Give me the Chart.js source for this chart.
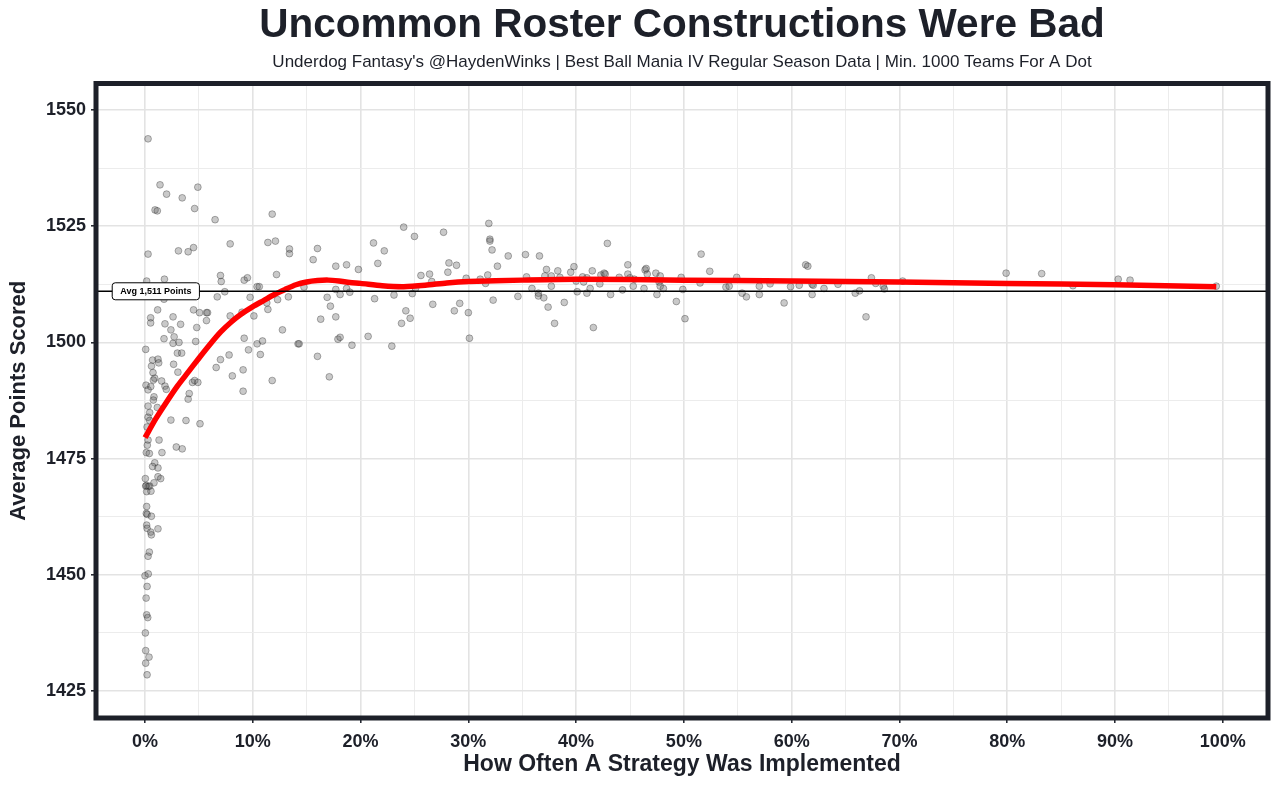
<!DOCTYPE html>
<html>
<head>
<meta charset="utf-8">
<script src="https://cdn.jsdelivr.net/npm/chart.js@4.4.1/dist/chart.umd.min.js"></script>
<style>
  body { margin: 0; background: #ffffff; }
  canvas { display: block; }
</style>
</head>
<body>
<canvas id="chart" width="1280" height="785"></canvas>
<script>
// share of teams using a strategy (%) and avg points for those teams
const shareX = [
  0.28, 1.39, 2.0, 3.45, 4.9, 0.93, 1.14, 4.6, 6.5, 11.8, 0.28, 3.1, 4.0, 4.5, 7.9, 11.4, 12.1, 13.4, 13.4, 12.2,
  7.0, 7.07, 7.4, 9.2, 9.5, 10.4, 10.6, 1.8, 0.15, 6.7, 9.75, 13.3,
  1.76, 4.5, 5.06, 5.7, 5.8, 1.17, 0.52, 0.52, 2.6, 1.85, 2.4, 3.3, 4.8, 5.7, 7.9, 9.0, 10.1, 11.3, 12.3, 11.4,
  12.75, 1.76, 2.6, 3.15, 2.7, 4.7, 0.06, 9.2, 10.4, 10.9, 9.6, 10.7, 3.0, 3.4, 0.7, 1.2, 1.27, 0.6, 2.65, 3.05,
  7.0, 7.8, 6.6, 9.1, 8.1, 11.8, 9.1, 0.74, 0.9, 0.77, 1.54, 1.85, 1.97, 0.09, 0.28, 0.53, 4.4, 4.6, 4.9, 4.1,
  4.0, 0.83, 0.77, 0.28, 1.14, 0.43, 0.28, 0.43, 0.19, 2.4, 3.8, 5.1, 1.3, 0.28, 0.21, 0.12, 0.4, 1.57, 2.9, 3.45,
  0.9, 0.7, 1.2, 0.03, 1.2, 1.45, 0.12, 0.83, 0.3,
  0.06, 0.43, 0.15, 0.55, 0.15, 0.12, 0.2, 0.59, 0.15, 0.19, 1.2, 0.53, 0.59, 0.4, 0.28, 0.0, 0.3, 0.19, 0.1, 0.15,
  0.25, 0.03, 0.06, 0.37, 0.06, 0.19,
  16.0, 15.6, 17.7, 18.7, 19.8, 21.2, 22.2, 21.6, 24.0, 25.0, 27.7, 28.2, 28.1, 28.9, 25.6, 26.4, 26.6, 31.9, 32.0, 32.0,
  32.2, 32.7, 33.7, 35.3, 36.6, 14.75, 16.9, 17.7, 18.1, 18.7, 19.0, 17.2, 16.3, 17.7, 21.3, 23.1, 24.8, 25.1, 26.7, 24.2,
  23.8, 24.6, 28.7, 29.2, 29.8, 30.0, 30.1, 31.1, 31.6, 31.8, 32.3, 34.6, 35.4, 35.9, 36.5, 36.5, 37.0, 37.4, 37.25, 37.1,
  17.9, 18.1, 19.2, 20.7, 16.0, 14.2, 14.3, 22.9, 17.1,
  38.3, 37.7, 38.5, 38.0, 38.9, 37.7, 39.5, 39.8, 40.0, 40.1, 40.6, 40.7, 41.0, 41.0, 41.3, 41.5, 41.6, 42.2, 42.3, 42.6,
  42.7, 42.9, 43.2, 44.0, 44.3, 44.8, 44.8, 45.0, 45.3, 45.4, 46.3, 46.4, 46.5, 46.6, 47.4, 47.5, 47.7, 47.8, 47.8, 48.1,
  49.3, 49.75, 49.9, 50.1, 51.5, 51.6, 52.4, 53.9, 54.2, 54.9, 55.4, 55.8, 57.0, 57.0, 58.0, 59.3, 59.9,
  60.7, 61.3, 61.5, 61.9, 61.9, 62.0, 63.0, 64.3, 65.9, 66.3, 66.9, 67.4, 67.8, 68.5, 68.6, 70.3, 79.9, 83.2, 86.1, 90.3,
  91.4, 99.4
];
const avgPts = [
  1543.8, 1533.9, 1531.9, 1531.1, 1533.4, 1528.5, 1528.3, 1528.8, 1526.4, 1527.6, 1519.0, 1519.7, 1519.5, 1520.4, 1521.2, 1521.5, 1521.8, 1520.1, 1519.1, 1514.6,
  1514.4, 1513.1, 1510.9, 1513.4, 1513.9, 1512.0, 1512.0, 1513.6, 1513.2, 1509.8, 1509.7, 1509.8,
  1509.3, 1507.0, 1506.4, 1506.4, 1506.4, 1507.0, 1505.3, 1504.2, 1505.5, 1504.0, 1502.7, 1503.9, 1503.2, 1504.7, 1505.7, 1506.5, 1505.7, 1508.5, 1509.2, 1507.1,
  1502.7, 1500.8, 1499.8, 1500.0, 1501.2, 1500.2, 1498.5, 1500.9, 1499.7, 1500.3, 1498.4, 1497.4, 1497.7, 1497.7, 1496.2, 1496.4, 1495.6, 1494.9, 1495.3, 1493.6,
  1496.3, 1497.3, 1494.6, 1494.1, 1492.8, 1491.8, 1489.5, 1493.5, 1492.3, 1491.9, 1491.7, 1490.6, 1489.9, 1490.8, 1489.8, 1490.5, 1491.4, 1491.8, 1491.4, 1489.0,
  1487.8, 1488.3, 1487.6, 1486.3, 1486.0, 1484.9, 1483.9, 1483.2, 1481.8, 1483.3, 1483.2, 1482.5, 1479.0, 1479.0, 1477.9, 1476.3, 1476.1, 1476.3, 1477.5, 1477.1,
  1474.1, 1473.3, 1473.0, 1470.7, 1471.1, 1470.7, 1469.2, 1469.8, 1469.0,
  1469.1, 1469.1, 1467.9, 1468.0, 1464.7, 1463.2, 1463.0, 1462.6, 1460.7, 1460.0, 1459.9, 1459.2, 1458.6, 1454.9, 1454.0, 1449.8, 1450.2, 1447.5, 1445.0, 1441.4,
  1440.8, 1437.5, 1433.7, 1432.3, 1431.0, 1428.5,
  1520.2, 1517.8, 1516.4, 1516.7, 1515.7, 1521.4, 1519.7, 1517.0, 1524.8, 1522.8, 1523.7, 1517.1, 1515.1, 1516.6, 1514.4, 1514.7, 1513.1, 1525.6, 1522.2, 1521.8,
  1519.9, 1516.4, 1518.6, 1518.9, 1518.6, 1511.9, 1509.7, 1511.4, 1510.3, 1511.6, 1510.8, 1507.8, 1505.0, 1505.5, 1509.4, 1510.2, 1510.5, 1511.6, 1508.2, 1506.8,
  1504.1, 1505.2, 1506.8, 1508.4, 1513.8, 1506.4, 1500.9, 1513.6, 1512.7, 1514.5, 1509.1, 1509.9, 1514.1, 1511.6, 1510.6, 1510.0, 1509.6, 1507.6, 1515.7, 1514.3,
  1500.7, 1501.1, 1499.4, 1501.3, 1497.0, 1499.7, 1499.7, 1499.2, 1492.6,
  1515.4, 1514.3, 1514.0, 1504.1, 1508.6, 1512.1, 1515.1, 1516.3, 1513.2, 1510.9, 1514.1, 1513.0, 1510.6, 1513.9, 1511.6, 1515.4, 1503.2, 1512.6, 1514.5, 1514.9,
  1514.7, 1521.3, 1510.3, 1514.0, 1511.3, 1516.7, 1514.7, 1513.9, 1512.1, 1513.6, 1511.6, 1515.6, 1515.9, 1514.7, 1514.9, 1510.3, 1513.0, 1514.3, 1512.1, 1511.6,
  1508.8, 1514.0, 1511.4, 1505.1, 1512.8, 1519.0, 1515.3, 1511.9, 1512.1, 1514.0, 1510.6, 1509.8, 1512.1, 1510.3, 1512.6, 1508.5, 1512.0,
  1512.3, 1516.7, 1516.4, 1510.3, 1512.5, 1512.3, 1511.6, 1512.5, 1510.6, 1511.1, 1505.5, 1513.9, 1512.7, 1512.1, 1511.5, 1513.2, 1514.9, 1514.8, 1512.2, 1513.6,
  1513.4, 1512.1
];

// red trend line
const smoothX = [0, 1, 2, 3, 4, 5, 6, 7, 8, 9, 10, 11, 12, 13, 14, 15, 16, 17, 18, 19, 20, 22, 24, 26, 28, 30, 35, 40, 50, 60, 70, 80, 90, 99.4];
const smoothY = [1479.5, 1483.6, 1487.2, 1490.6, 1493.6, 1496.6, 1499.5, 1502.2, 1504.4, 1506.2, 1507.7, 1509.0, 1510.3, 1511.4, 1512.4, 1513.0, 1513.3, 1513.4, 1513.2, 1512.9,
  1512.7, 1512.2, 1512.0, 1512.3, 1512.8, 1513.1, 1513.4, 1513.6, 1513.4, 1513.2, 1513.0, 1512.7, 1512.4, 1512.0];

const avgLine = 1511;
const avgLabel = "Avg 1,511 Points";
const avgLabelX = 1.0;

const xTicks = [0, 5, 10, 15, 20, 25, 30, 35, 40, 45, 50, 55, 60, 65, 70, 75, 80, 85, 90, 95, 100];
const yTicks = [1425, 1437.5, 1450, 1462.5, 1475, 1487.5, 1500, 1512.5, 1525, 1537.5, 1550];

const ink = "#1d2029";
const font = "'Liberation Sans', Arial, sans-serif";

const frame = {
  id: "frame",
  afterDatasetsDraw(chart) {
    const { ctx, chartArea: a, scales } = chart;
    const y = scales.y.getPixelForValue(avgLine);
    ctx.save();
    ctx.strokeStyle = "#000";
    ctx.lineWidth = 1.5;
    ctx.beginPath();
    ctx.moveTo(a.left, y);
    ctx.lineTo(a.right, y);
    ctx.stroke();

    ctx.font = "bold 9px " + font;
    const w = ctx.measureText(avgLabel).width + 16;
    const h = 17;
    const cx = scales.x.getPixelForValue(avgLabelX);
    ctx.beginPath();
    ctx.roundRect(cx - w / 2, y - h / 2, w, h, 3);
    ctx.fillStyle = "#fff";
    ctx.fill();
    ctx.lineWidth = 1;
    ctx.strokeStyle = "#000";
    ctx.stroke();
    ctx.fillStyle = "#000";
    ctx.textAlign = "center";
    ctx.textBaseline = "middle";
    ctx.fillText(avgLabel, cx, y + 0.5);
    ctx.restore();
  },
  afterDraw(chart) {
    const { ctx, chartArea: a } = chart;
    ctx.save();
    ctx.strokeStyle = ink;
    ctx.lineWidth = 5;
    ctx.strokeRect(a.left, a.top, a.right - a.left, a.bottom - a.top);
    ctx.restore();
  }
};

new Chart(document.getElementById("chart"), {
  type: "scatter",
  data: {
    datasets: [
      {
        label: "trend",
        data: smoothX.map((x, i) => ({ x, y: smoothY[i] })),
        showLine: true,
        borderColor: "#ff0000",
        borderWidth: 5.5,
        borderCapStyle: "butt",
        pointRadius: 0,
        tension: 0.25,
        order: 0
      },
      {
        label: "strategies",
        data: shareX.map((x, i) => ({ x, y: avgPts[i] })),
        backgroundColor: "rgba(90, 90, 90, 0.33)",
        borderColor: "rgba(30, 30, 30, 0.33)",
        borderWidth: 1,
        pointRadius: 3.4,
        order: 1
      }
    ]
  },
  options: {
    responsive: false,
    animation: false,
    layout: { padding: { left: 0, right: 12, top: 0, bottom: 0 } },
    plugins: {
      legend: { display: false },
      tooltip: { enabled: false },
      // centred over the panel, not the whole canvas
      title: {
        display: true,
        fullSize: false,
        text: "Uncommon Roster Constructions Were Bad",
        color: ink,
        font: { family: font, size: 40.5, weight: "bold" },
        padding: { top: 2, bottom: 1 }
      },
      subtitle: {
        display: true,
        fullSize: false,
        text: "Underdog Fantasy's @HaydenWinks | Best Ball Mania IV Regular Season Data | Min. 1000 Teams For A Dot",
        color: ink,
        font: { family: font, size: 17 },
        padding: { top: 1, bottom: 10.5 }
      }
    },
    scales: {
      x: {
        type: "linear",
        min: -4.55,
        max: 104.2,
        afterBuildTicks: (s) => { s.ticks = xTicks.map((v) => ({ value: v })); },
        afterFit: (s) => { s.height = 67; },
        border: { display: false },
        grid: {
          color: (c) => (c.tick && c.tick.value % 10 === 0 ? "#e3e3e3" : "#ececec"),
          lineWidth: (c) => (c.tick && c.tick.value % 10 === 0 ? 1.6 : 1),
          tickColor: (c) => (c.tick && c.tick.value % 10 === 0 ? ink : "rgba(0,0,0,0)"),
          tickLength: 5,
          tickWidth: 1.5
        },
        ticks: {
          color: ink,
          padding: 8,
          maxRotation: 0,
          font: { family: font, size: 18, weight: "bold" },
          callback: (v) => (v % 10 === 0 ? v + "%" : "")
        },
        title: {
          display: true,
          text: "How Often A Strategy Was Implemented",
          color: ink,
          font: { family: font, size: 23, weight: "bold" },
          padding: { top: 0, bottom: 7 }
        }
      },
      y: {
        min: 1419.2,
        max: 1555.7,
        afterBuildTicks: (s) => { s.ticks = yTicks.map((v) => ({ value: v })); },
        afterFit: (s) => { s.width = 96; },
        border: { display: false },
        grid: {
          color: (c) => (c.tick && c.tick.value % 25 === 0 ? "#e3e3e3" : "#ececec"),
          lineWidth: (c) => (c.tick && c.tick.value % 25 === 0 ? 1.6 : 1),
          tickColor: (c) => (c.tick && c.tick.value % 25 === 0 ? ink : "rgba(0,0,0,0)"),
          tickLength: 5,
          tickWidth: 1.5
        },
        ticks: {
          color: ink,
          padding: 5,
          font: { family: font, size: 18, weight: "bold" },
          callback: (v) => (v % 25 === 0 ? String(v) : "")
        },
        title: {
          display: true,
          text: "Average Points Scored",
          color: ink,
          font: { family: font, size: 22, weight: "bold" },
          padding: { top: 6, bottom: 0 }
        }
      }
    }
  },
  plugins: [frame]
});
</script>
</body>
</html>
